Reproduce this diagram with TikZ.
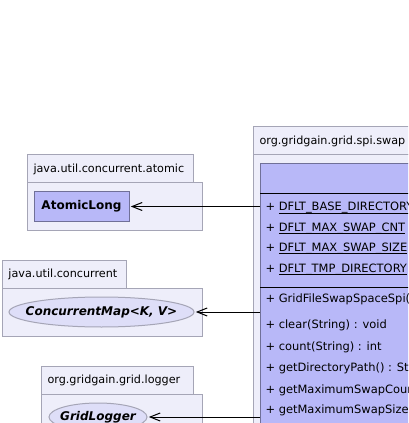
\documentclass[tikz,border=0pt]{standalone}
\usepackage{fontspec}
\setmainfont{DejaVu Sans}
\usetikzlibrary{arrows.meta,shapes.geometric}
\definecolor{pkgfill}{RGB}{238,238,250}
\definecolor{pkgline}{RGB}{165,165,182}
\definecolor{clsfill}{RGB}{184,184,248}
\definecolor{clsline}{RGB}{112,112,152}
\definecolor{ifcfill}{RGB}{222,222,248}
\newcommand{\ulname}[1]{\setbox0\hbox{#1}\rlap{\rule[-2pt]{\wd0}{.7pt}}\box0}
\tikzset{
  pkg/.style={draw=pkgline,fill=pkgfill},
  pkglabel/.style={anchor=west,inner sep=0,font=\fontsize{8.4}{10}\selectfont},
  cls/.style={draw=clsline,fill=clsfill,inner sep=0,font=\fontsize{9}{11}\selectfont\bfseries},
  ifc/.style={ellipse,draw=pkgline,fill=ifcfill,inner sep=0},
  ifcname/.style={inner sep=0,font=\fontsize{9}{11}\selectfont\bfseries\itshape},
  member/.style={anchor=base west,inner sep=0,font=\fontsize{8.6}{10}\selectfont},
  dep/.style={-{Straight Barb[length=7.5pt,width=6pt]},shorten >=1pt}
}
\begin{document}
\begin{tikzpicture}[x=.75pt,y=-.75pt,line width=.75pt]
\useasboundingbox (0,0) rectangle (408,423);
\clip (0,0) rectangle (408,423);
\foreach \xa/\xb/\xc/\ya/\yb/\txt in {27/193/202/155/231/java.util.concurrent.atomic,2/126/202/260/336/java.util.concurrent,41/193/202/366/440/org.gridgain.grid.logger,253/460/460/127/440/org.gridgain.grid.spi.swap}{
  \draw[pkg] (\xa,\ya) rectangle (\xb,\ya+28);
  \draw[pkg] (\xa,\ya+28) rectangle (\xc,\yb);
  \node[pkglabel] (pkg\xa) at (\xa+6,\ya+14) {\txt};
}
\node[cls,minimum width=71.25pt,minimum height=22.5pt] (atomiclong) at (81.5,206.5) {AtomicLong};
\node[ifc,minimum width=138.75pt,minimum height=22.5pt,label={[ifcname]center:ConcurrentMap<K, V>}] (concmap) at (101.5,312) {};
\node[ifc,minimum width=73.5pt,minimum height=21pt,label={[ifcname]center:GridLogger}] (gridlogger) at (98,417) {};
\node[cls,anchor=north west,minimum width=150pt,minimum height=210pt] (swapspi) at (260,163) {};
\draw (260,194)--(460,194);
\draw (260,287)--(460,287);
\foreach \y/\txt in {211/DFLT\_BASE\_DIRECTORY,231.5/DFLT\_MAX\_SWAP\_CNT,251.5/DFLT\_MAX\_SWAP\_SIZE,272/DFLT\_TMP\_DIRECTORY}{
  \node[member] (attr\y) at (265,\y) {+ \ulname{\txt}};
}
\foreach \y/\txt in {302/GridFileSwapSpaceSpi(),328/clear(String) : void,350/count(String) : int,371.5/getDirectoryPath() : Str,393/getMaximumSwapCount,413.5/getMaximumSwapSize(}{
  \node[member] (op\y) at (265,\y) {+ \txt};
}
\draw[dep] (atomiclong.east -| swapspi.west)--(atomiclong.east);
\draw[dep] (concmap.east -| swapspi.west)--(concmap.east);
\draw[dep] (gridlogger.east -| swapspi.west)--(gridlogger.east);
\end{tikzpicture}
\end{document}
